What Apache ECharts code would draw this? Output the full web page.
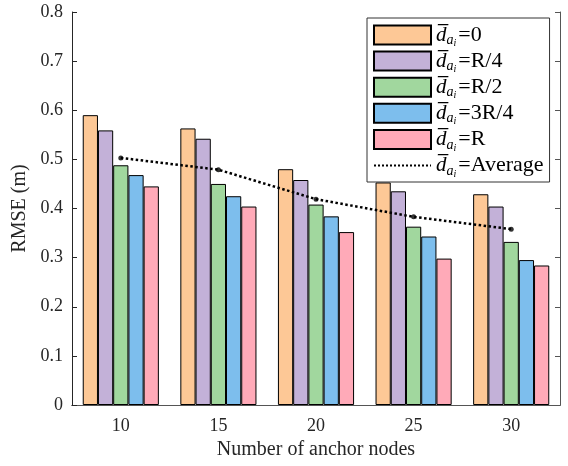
<!DOCTYPE html>
<html>
<head>
<meta charset="utf-8">
<script src="https://cdn.jsdelivr.net/npm/echarts@6/dist/echarts.min.js"></script>
<style>html,body{margin:0;padding:0;background:#fff;}#c{width:568px;height:466px;}</style>
</head>
<body>
<div id="c"></div>
<script>
var categories = ['10', '15', '20', '25', '30'];
var seriesNames = ['0', 'R/4', 'R/2', '3R/4', 'R'];
var d0   = [0.590, 0.563, 0.480, 0.453, 0.429];
var dR4  = [0.559, 0.542, 0.458, 0.435, 0.404];
var dR2  = [0.488, 0.450, 0.408, 0.363, 0.332];
var d3R4 = [0.468, 0.425, 0.384, 0.343, 0.295];
var dR   = [0.445, 0.404, 0.352, 0.298, 0.284];
var avg  = [0.503, 0.479, 0.419, 0.383, 0.358];
var yTicks = ['0', '0.1', '0.2', '0.3', '0.4', '0.5', '0.6', '0.7', '0.8'];

var colors = ['#FDC896', '#C3B1D8', '#A1D79E', '#7DBEED', '#FFAAB8'];
var barData = [d0, dR4, dR2, d3R4, dR];
var serif = '"Liberation Serif", "DejaVu Serif", serif';

var series = barData.map(function (vals, i) {
  return {
    name: seriesNames[i],
    type: 'bar',
    data: vals,
    barGap: '0%',
    barCategoryGap: '22%',
    itemStyle: { color: colors[i], borderColor: '#000', borderWidth: 1 }
  };
});
series.push({
  name: 'Average',
  type: 'line',
  data: avg,
  symbol: 'none',
  itemStyle: { color: '#000' },
  lineStyle: { color: '#000', width: 2.5, type: 'dotted' },
  z: 5
});
series.push({
  name: 'AverageDots',
  type: 'scatter',
  data: avg,
  symbol: 'circle',
  symbolSize: 5,
  itemStyle: { color: '#000' },
  z: 6
});

var legendData = seriesNames.map(function (n) { return { name: n, icon: 'rect' }; });
legendData.push({ name: 'Average', itemStyle: { color: 'rgba(0,0,0,0)', borderWidth: 0, opacity: 0 } });

var chart = echarts.init(document.getElementById('c'), null, { renderer: 'canvas' });
chart.setOption({
  animation: false,
  grid: { left: 72, right: 8, top: 12, bottom: 61 },
  legend: {
    orient: 'vertical',
    left: 367,
    top: 18,
    padding: [6, 6, 3, 6],
    itemWidth: 57,
    itemHeight: 19,
    itemGap: 1.6,
    backgroundColor: '#fff',
    borderColor: '#333',
    borderWidth: 1,
    borderRadius: 0,
    data: legendData,
    formatter: function (name) {
      return '{d|d\u0305}{a|a}{i|i}{t|=' + name + '}';
    },
    textStyle: {
      fontFamily: serif,
      color: '#000',
      lineHeight: 19,
      rich: {
        d: { fontFamily: serif, fontStyle: 'italic', fontSize: 21, lineHeight: 19, color: '#000' },
        a: { fontFamily: serif, fontStyle: 'italic', fontSize: 14, lineHeight: 6, verticalAlign: 'top', padding: [8, 0, 0, 0], color: '#000' },
        i: { fontFamily: serif, fontStyle: 'italic', fontSize: 10, lineHeight: 2, verticalAlign: 'top', padding: [13, 0, 0, 0], color: '#000' },
        t: { fontFamily: serif, fontSize: 22, lineHeight: 19, padding: [0, 0, 0, 2], color: '#000' }
      }
    }
  },
  xAxis: [{
    type: 'category',
    data: categories,
    position: 'bottom',
    name: 'Number of anchor nodes',
    nameLocation: 'middle',
    nameGap: 35,
    nameTextStyle: { fontFamily: serif, fontSize: 20, color: '#262626' },
    axisLine: { lineStyle: { color: '#262626', width: 1 } },
    axisTick: { inside: true, alignWithLabel: true, length: 5, lineStyle: { color: '#262626' } },
    axisLabel: { fontFamily: serif, fontSize: 18, color: '#262626', margin: 12 },
    splitLine: { show: false }
  }, {
    type: 'category',
    data: categories,
    position: 'top',
    axisLine: { lineStyle: { color: '#555', width: 1 } },
    axisTick: { inside: true, alignWithLabel: true, length: 5, lineStyle: { color: '#555' } },
    axisLabel: { show: false },
    splitLine: { show: false }
  }],
  yAxis: [{
    type: 'value',
    min: 0,
    max: 0.8,
    interval: 0.1,
    position: 'left',
    name: 'RMSE (m)',
    nameLocation: 'middle',
    nameGap: 38,
    nameTextStyle: { fontFamily: serif, fontSize: 20, color: '#262626' },
    axisLine: { show: true, lineStyle: { color: '#262626', width: 1 } },
    axisTick: { show: true, inside: true, length: 5, lineStyle: { color: '#262626' } },
    axisLabel: {
      fontFamily: serif, fontSize: 18, color: '#262626', margin: 9,
      formatter: function (v) { return yTicks[Math.round(v * 10)]; }
    },
    splitLine: { show: false }
  }, {
    type: 'value',
    min: 0,
    max: 0.8,
    interval: 0.1,
    position: 'right',
    axisLine: { show: true, lineStyle: { color: '#555', width: 1 } },
    axisTick: { show: true, inside: true, length: 5, lineStyle: { color: '#555' } },
    axisLabel: { show: false },
    splitLine: { show: false }
  }],
  series: series
});
</script>
</body>
</html>
